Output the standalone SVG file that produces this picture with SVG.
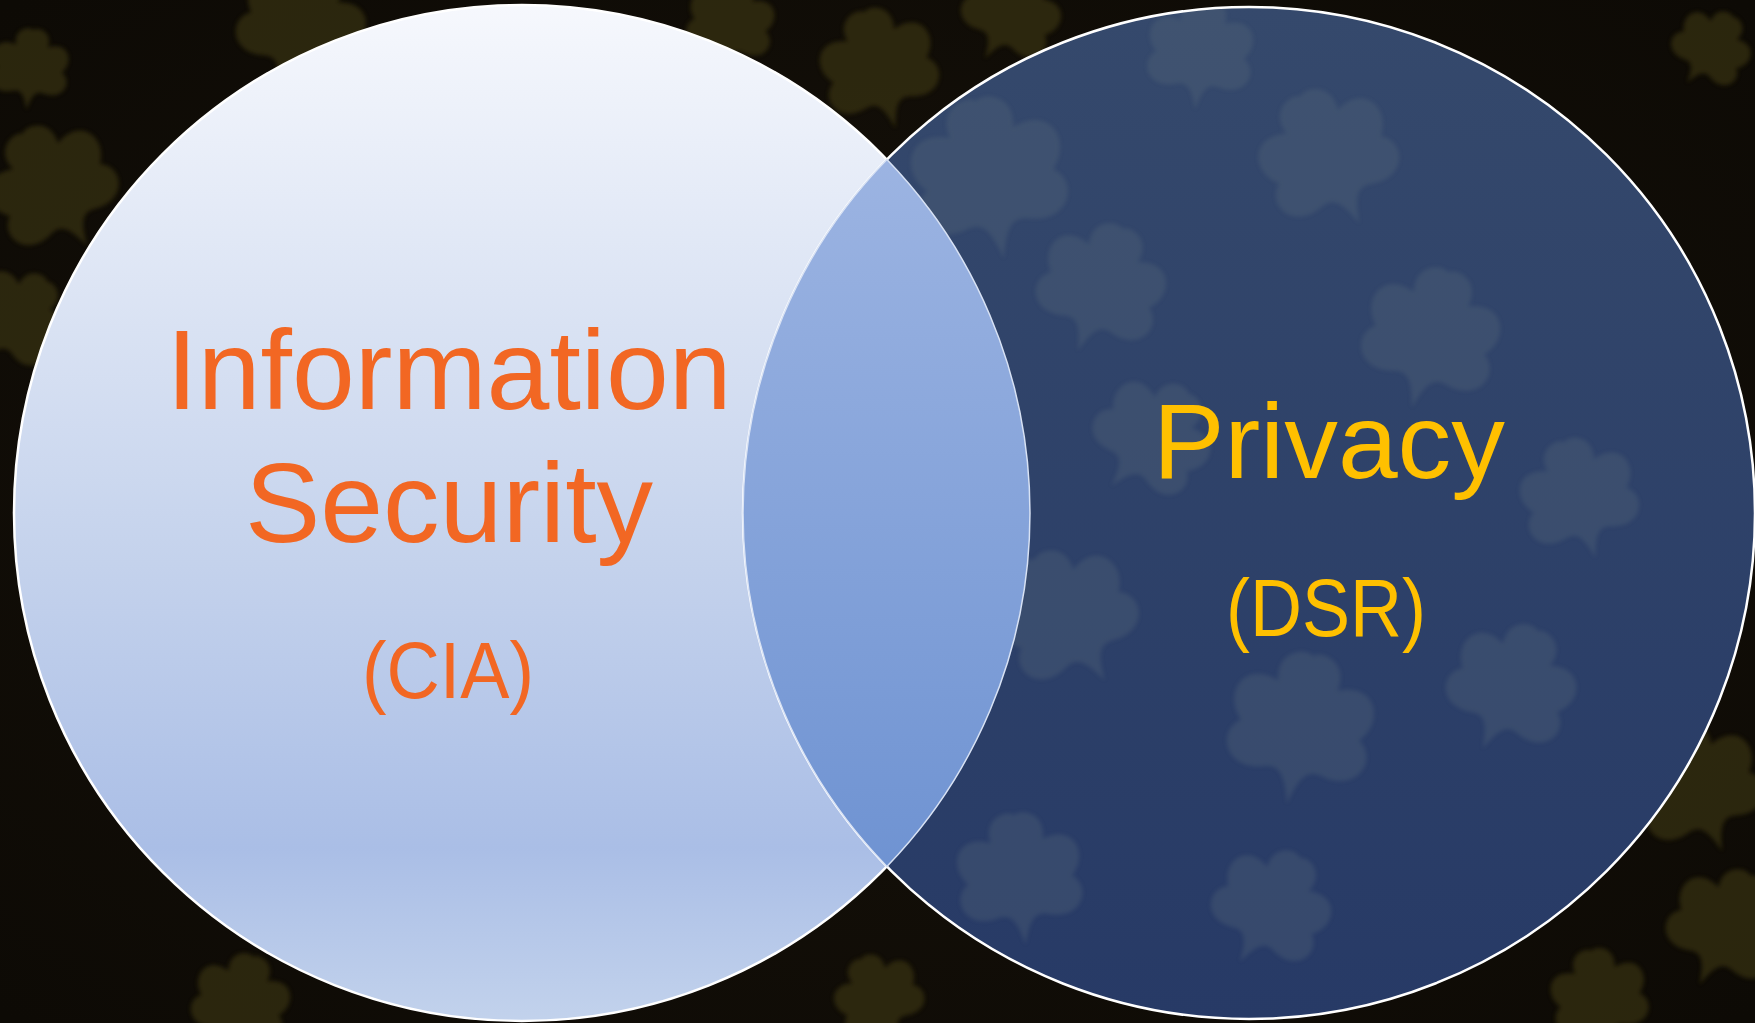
<svg xmlns="http://www.w3.org/2000/svg" width="1755" height="1023" viewBox="0 0 1755 1023">
  <defs>
    <style>
      .lbl { font-family: "Liberation Sans", Arial, Helvetica, sans-serif; text-anchor: middle; }
      .sec { fill: #f26723; }
      .prv { fill: #ffc000; }
      .ring { stroke: #ffffff; stroke-width: 2.5; }
      .bgleaf { fill: #4a4212; }
      .inleaf { fill: #5b6d7c; }
    </style>
    <linearGradient id="gLeft" x1="0" y1="0" x2="0" y2="1">
      <stop offset="0" stop-color="#f6f8fd"/>
      <stop offset="0.55" stop-color="#c4d2ec"/>
      <stop offset="0.83" stop-color="#aabee6"/>
      <stop offset="1" stop-color="#c2d2ec"/>
    </linearGradient>
    <linearGradient id="gRight" x1="0" y1="0" x2="0" y2="1">
      <stop offset="0" stop-color="#35496c"/>
      <stop offset="1" stop-color="#273a66"/>
    </linearGradient>
    <linearGradient id="gLens" x1="0" y1="0" x2="0" y2="1">
      <stop offset="0" stop-color="#9cb4e2"/>
      <stop offset="1" stop-color="#6f93d2"/>
    </linearGradient>
    <radialGradient id="gBg" cx="0.5" cy="0.5" r="0.7">
      <stop offset="0" stop-color="#17120a"/>
      <stop offset="1" stop-color="#0d0a05"/>
    </radialGradient>
    <filter id="soft" x="-20%" y="-20%" width="140%" height="140%">
      <feGaussianBlur stdDeviation="2"/>
    </filter>
    <path id="leaf" d="M0,50 C-5,30 -10,25 -20,28 C-45,35 -55,10 -40,0 C-55,-15 -45,-40 -20,-30 C-25,-50 -5,-55 0,-50 C5,-55 25,-50 20,-30 C45,-40 55,-15 40,0 C55,10 45,35 20,28 C10,25 5,30 0,50 Z"/>
    <clipPath id="clipRight">
      <circle cx="1249" cy="513" r="506"/>
    </clipPath>
  </defs>

  <g id="background">
    <rect x="0" y="0" width="1755" height="1023" fill="url(#gBg)"/>
    <g class="bgleaf" opacity="0.5" filter="url(#soft)">
      <use href="#leaf" transform="translate(300,30) rotate(20) scale(1.3)"/>
      <use href="#leaf" transform="translate(880,70) rotate(-15) scale(1.2)"/>
      <use href="#leaf" transform="translate(1010,15) rotate(30) scale(1.0)"/>
      <use href="#leaf" transform="translate(730,25) rotate(10) scale(0.9)"/>
      <use href="#leaf" transform="translate(55,190) rotate(-30) scale(1.3)"/>
      <use href="#leaf" transform="translate(15,320) rotate(40) scale(1.0)"/>
      <use href="#leaf" transform="translate(30,70) rotate(5) scale(0.8)"/>
      <use href="#leaf" transform="translate(1700,790) rotate(-20) scale(1.3)"/>
      <use href="#leaf" transform="translate(1725,930) rotate(25) scale(1.2)"/>
      <use href="#leaf" transform="translate(1600,1000) rotate(-10) scale(1.0)"/>
      <use href="#leaf" transform="translate(240,1005) rotate(15) scale(1.0)"/>
      <use href="#leaf" transform="translate(880,1000) rotate(-25) scale(0.9)"/>
      <use href="#leaf" transform="translate(1710,50) rotate(35) scale(0.8)"/>
    </g>
  </g>

  <g id="node-infosec">
    <circle cx="522" cy="513" r="508" fill="url(#gLeft)" class="ring"/>
  </g>

  <g id="node-privacy">
    <circle cx="1249" cy="513" r="506" fill="url(#gRight)"/>
    <g clip-path="url(#clipRight)">
      <g class="inleaf" opacity="0.3" filter="url(#soft)">
        <use href="#leaf" transform="translate(990,180) rotate(-10) scale(1.6)"/>
        <use href="#leaf" transform="translate(1100,290) rotate(20) scale(1.3)"/>
        <use href="#leaf" transform="translate(1330,160) rotate(-25) scale(1.4)"/>
        <use href="#leaf" transform="translate(1430,340) rotate(15) scale(1.4)"/>
        <use href="#leaf" transform="translate(1150,440) rotate(40) scale(1.2)"/>
        <use href="#leaf" transform="translate(1580,500) rotate(-15) scale(1.2)"/>
        <use href="#leaf" transform="translate(1070,620) rotate(-30) scale(1.4)"/>
        <use href="#leaf" transform="translate(1300,730) rotate(10) scale(1.5)"/>
        <use href="#leaf" transform="translate(1510,690) rotate(25) scale(1.3)"/>
        <use href="#leaf" transform="translate(1020,880) rotate(-5) scale(1.3)"/>
        <use href="#leaf" transform="translate(1270,910) rotate(30) scale(1.2)"/>
        <use href="#leaf" transform="translate(1200,55) rotate(5) scale(1.1)"/>
      </g>
    </g>
    <circle cx="1249" cy="513" r="506" fill="none" class="ring"/>
  </g>

  <g id="overlap">
    <path d="M886.9,159.6 A506,506 0 0 0 886.9,866.4 A508,508 0 0 0 886.9,159.6 Z" fill="url(#gLens)" stroke="#d8e2f4" stroke-width="1.5"/>
  </g>

  <g id="labels">
    <text class="lbl sec" x="449" y="409" font-size="113">Information</text>
    <text class="lbl sec" x="449" y="542" font-size="113">Security</text>
    <text class="lbl sec" x="448" y="698" font-size="80" textLength="172" lengthAdjust="spacingAndGlyphs">(CIA)</text>
    <text class="lbl prv" x="1329" y="478" font-size="105" textLength="352" lengthAdjust="spacingAndGlyphs">Privacy</text>
    <text class="lbl prv" x="1326" y="636" font-size="81" textLength="200" lengthAdjust="spacingAndGlyphs">(DSR)</text>
  </g>
</svg>
